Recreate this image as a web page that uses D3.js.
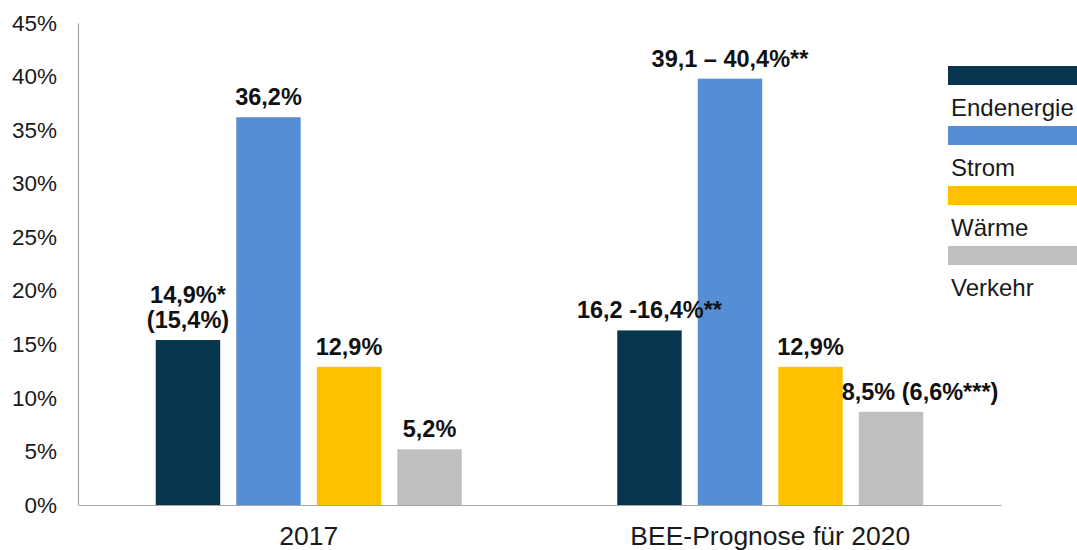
<!DOCTYPE html>
<html>
<head>
<meta charset="utf-8">
<script src="https://cdn.jsdelivr.net/npm/d3@7"></script>
<style>
  body { margin: 0; background: white; }
  text { font-family: "Liberation Sans", Arial, sans-serif; }
</style>
</head>
<body>
<div id="chart"></div>
<script>
// Chart data
const groups = ["2017", "BEE-Prognose für 2020"];
const series = ["Endenergie", "Strom", "Wärme", "Verkehr"];
const values2017 = [15.4, 36.2, 12.9, 5.2];
const values2020 = [16.3, 39.8, 12.9, 8.7];
const labels2017 = [["14,9%*", "(15,4%)"], ["36,2%"], ["12,9%"], ["5,2%"]];
const labels2020 = [["16,2 -16,4%**"], ["39,1 – 40,4%**"], ["12,9%"], ["8,5% (6,6%***)"]];
const yTicks = [0, 5, 10, 15, 20, 25, 30, 35, 40, 45];

const seriesColors = ["#06354d", "#558ed5", "#ffc000", "#bfbfbf"];

let width = 1077,
    height = 550;

let margin = { top: 23, bottom: 45, left: 78, right: 76 };

let svg = d3.select("#chart")
            .append("svg")
            .attr("width", width)
            .attr("height", height)
            .style("background", "white");

// one row per group, one bar per series
const rows = [];
groups.forEach((g, gi) => {
  const vals = gi === 0 ? values2017 : values2020;
  const labs = gi === 0 ? labels2017 : labels2020;
  series.forEach((s, si) => {
    rows.push({ group: g, series: s, value: vals[si], label: labs[si] });
  });
});

const x0 = d3.scaleBand()
             .domain(groups)
             .range([margin.left, width - margin.right])
             .paddingInner(0.337)
             .paddingOuter(0.1685);

const x1 = d3.scaleBand()
             .domain(series)
             .range([0, x0.bandwidth()])
             .paddingInner(0.2)
             .paddingOuter(0);

const y = d3.scaleLinear()
            .domain([0, 45])
            .range([height - margin.bottom, margin.top]);

const color = d3.scaleOrdinal()
                .domain(series)
                .range(seriesColors);

// y axis
let yaxis = svg.append("g")
               .attr("transform", `translate(${margin.left},0)`)
               .call(d3.axisLeft(y)
                       .tickValues(yTicks)
                       .tickSize(0)
                       .tickSizeOuter(0)
                       .tickPadding(21)
                       .tickFormat(d => d + "%"));
yaxis.select(".domain").attr("stroke", "#a6a6a6").attr("stroke-width", 1.2);
yaxis.selectAll("text")
     .attr("font-size", "22.5px")
     .attr("font-family", "Liberation Sans, Arial, sans-serif")
     .attr("fill", "#1a1a1a");

// x axis
let xaxis = svg.append("g")
               .attr("transform", `translate(0,${y(0)})`)
               .call(d3.axisBottom(x0)
                       .tickSize(0)
                       .tickSizeOuter(0)
                       .tickPadding(21));
xaxis.select(".domain").attr("stroke", "#a6a6a6").attr("stroke-width", 1.2);
xaxis.selectAll("text")
     .attr("font-size", "26.5px")
     .attr("font-family", "Liberation Sans, Arial, sans-serif")
     .attr("fill", "#1a1a1a");

// bars
const barGroups = svg.selectAll(".bar")
    .data(rows)
    .enter()
    .append("g")
    .attr("class", "bar")
    .attr("transform", d => `translate(${x0(d.group)},0)`);

barGroups.append("rect")
         .attr("x", d => x1(d.series))
         .attr("y", d => y(d.value))
         .attr("width", x1.bandwidth())
         .attr("height", d => y(0) - y(d.value))
         .attr("fill", d => color(d.series));

// value labels on their own layer so they sit over neighbouring bars;
// the Verkehr forecast label is pushed a bit to the right
const labelShift = { "8,5% (6,6%***)": 29 };

const labelLayer = svg.append("g");
rows.forEach(d => {
  const cx = x0(d.group) + x1(d.series) + x1.bandwidth() / 2 + (labelShift[d.label[0]] || 0);
  const n = d.label.length;
  d.label.forEach((line, i) => {
    labelLayer.append("text")
              .attr("x", cx)
              .attr("y", y(d.value) - 12 - (n - 1 - i) * 25)
              .attr("text-anchor", "middle")
              .attr("font-size", "23.5px")
              .attr("font-weight", "bold")
              .attr("fill", "#111")
              .text(line);
  });
});

// legend: colour strip, name underneath
const legend = svg.append("g")
                  .attr("transform", "translate(948, 66)");

series.forEach((s, i) => {
  legend.append("rect")
        .attr("x", 0)
        .attr("y", i * 60)
        .attr("width", 140)
        .attr("height", 19)
        .attr("fill", color(s));

  legend.append("text")
        .attr("x", 3)
        .attr("y", i * 60 + 50)
        .attr("font-size", "24px")
        .attr("fill", "#1a1a1a")
        .text(s);
});
</script>
</body>
</html>
